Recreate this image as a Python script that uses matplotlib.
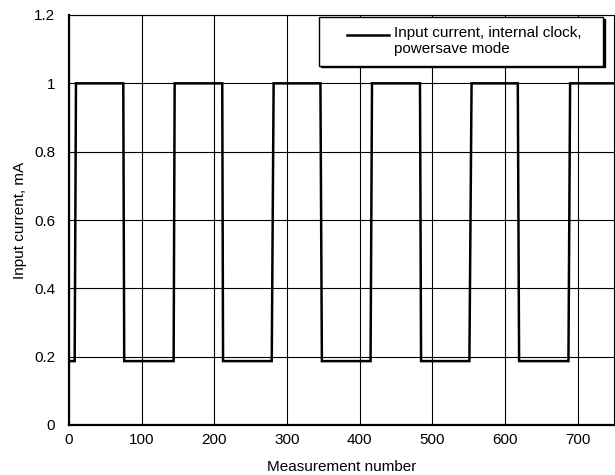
import matplotlib
matplotlib.use("Agg")
import matplotlib.pyplot as plt
from matplotlib.ticker import FuncFormatter
from matplotlib.legend_handler import HandlerLine2D
import numpy as np

# Square-wave input current (corner points of the trace)
measurement = [0, 7.8, 9.6, 74.7, 76, 144, 145.4, 210.9, 212, 279, 281.6,
               346, 348, 415, 417, 483, 484.5, 551, 554, 617.6, 619.4,
               687.3, 689.6, 750]
current_mA = [0.187, 0.187, 1.0, 1.0, 0.187, 0.187, 1.0, 1.0, 0.187, 0.187, 1.0,
              1.0, 0.187, 0.187, 1.0, 1.0, 0.187, 0.187, 1.0, 1.0, 0.187,
              0.187, 1.0, 1.0]
series_label = "Input current, internal clock,\npowersave mode"
x_ticks = [0, 100, 200, 300, 400, 500, 600, 700]
y_ticks = [0, 0.2, 0.4, 0.6, 0.8, 1.0, 1.2]

plt.rcParams['font.family'] = ['Liberation Sans', 'DejaVu Sans']
FS = 11


class PaddedHandler(HandlerLine2D):
    def get_xdata(self, legend, xdescent, ydescent, width, height, fontsize):
        x1 = -xdescent + width
        x0 = x1 - 2.8 * fontsize
        return np.array([x0, x1]), np.array([x0, x1])

    def create_artists(self, legend, orig_handle, xdescent, ydescent,
                       width, height, fontsize, trans):
        arts = super().create_artists(legend, orig_handle, xdescent, ydescent,
                                      width, height, fontsize, trans)
        for a in arts:
            y = np.asarray(a.get_ydata(), dtype=float)
            a.set_ydata(y + 0.45 * fontsize)
        return arts


fig = plt.figure(figsize=(6.15, 4.75), dpi=100)
ax = fig.add_axes([69/615, 50/475, (614-69)/615, (425-15)/475])

line, = ax.plot(measurement, current_mA, color='black', lw=1.8,
                label=series_label, solid_joinstyle='miter')

ax.set_xlim(0, 750)
ax.set_ylim(0, 1.2)
ax.set_xticks(x_ticks)
ax.set_yticks(y_ticks)
ax.yaxis.set_major_formatter(FuncFormatter(lambda v, p: f"{v:g}"))
ax.grid(True, color='black', lw=0.8)
ax.set_axisbelow(True)
ax.tick_params(axis='both', length=0, labelsize=FS)
ax.tick_params(axis='x', pad=6)
ax.tick_params(axis='y', pad=10)

for s in ['top', 'right']:
    ax.spines[s].set_linewidth(0.8)
for s in ['left', 'bottom']:
    ax.spines[s].set_linewidth(1.6)

ax.set_xlabel("Measurement number", fontsize=FS, labelpad=9)
ax.set_ylabel("Input current, mA", fontsize=FS, labelpad=5)

leg = ax.legend(handles=[line], loc='upper left', mode='expand',
                bbox_to_anchor=(319/615, 1-64/475, (603-319)/615, 47/475),
                bbox_transform=fig.transFigure, fontsize=FS, fancybox=False,
                shadow={'color': 'black', 'alpha': 1, 'ox': 1.3, 'oy': -1.3},
                framealpha=1, edgecolor='black', borderpad=0.6,
                handlelength=4.0, handletextpad=0.3, borderaxespad=0,
                labelspacing=0.2, handler_map={line: PaddedHandler()})
leg.get_frame().set_linewidth(1.0)

fig.savefig("out.png", dpi=100)
